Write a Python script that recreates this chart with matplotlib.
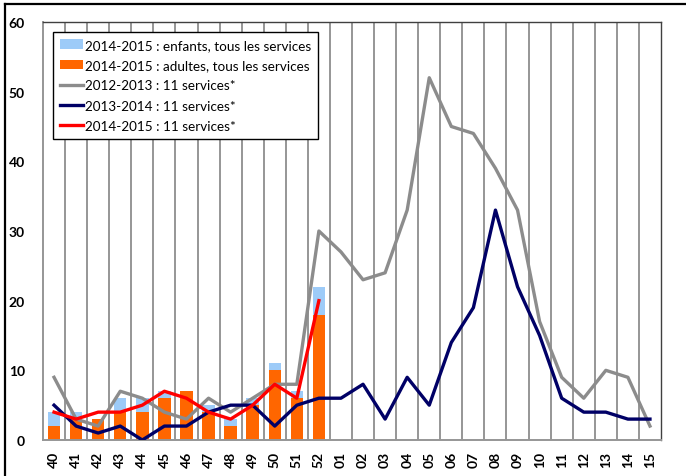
import numpy as np
import matplotlib
matplotlib.use("Agg")
from matplotlib import pyplot as plt
from matplotlib.lines import Line2D
from matplotlib.patches import Patch

WEEKS = ["40", "41", "42", "43", "44", "45", "46", "47", "48", "49", "50", "51", "52",
         "01", "02", "03", "04", "05", "06", "07", "08", "09", "10", "11", "12", "13", "14", "15"]

ADULTES_1415 = [2, 3, 3, 4, 4, 6, 7, 4, 2, 5, 10, 6, 18]
ENFANTS_1415 = [2, 1, 0, 2, 2, 1, 0, 1, 1, 1, 1, 1, 4]

SERIES_1213 = [9, 3, 2, 7, 6, 4, 3, 6, 4, 6, 8, 8, 30,
               27, 23, 24, 33, 52, 45, 44, 39, 33, 17, 9, 6, 10, 9, 2]
SERIES_1314 = [5, 2, 1, 2, 0, 2, 2, 4, 5, 5, 2, 5, 6,
               6, 8, 3, 9, 5, 14, 19, 33, 22, 15, 6, 4, 4, 3, 3]
SERIES_1415 = [4, 3, 4, 4, 5, 7, 6, 4, 3, 5, 8, 6, 20]

plt.rcParams["font.family"] = ["Lato", "DejaVu Sans"]

fig = plt.figure(figsize=(6.86, 4.77), dpi=100)
ax = fig.add_axes([43 / 686, 1 - 441 / 477, (661 - 43) / 686, (441 - 23) / 477])

x_all = np.arange(len(WEEKS))
x_bar = np.arange(len(ADULTES_1415))

ax.bar(x_bar, ADULTES_1415, width=0.56, color="#FF6600", zorder=2)
ax.bar(x_bar, ENFANTS_1415, width=0.56, bottom=ADULTES_1415, color="#9DCBF8", zorder=2)

ax.plot(x_all, SERIES_1213, color="#8C8C8C", lw=2.4, zorder=3)
ax.plot(x_all, SERIES_1314, color="#000066", lw=2.4, zorder=3)
ax.plot(x_bar, SERIES_1415, color="#FF0000", lw=2.4, zorder=4)

for b in np.arange(len(WEEKS) - 1) + 0.5:
    ax.axvline(b, color="#969696", lw=1.4, zorder=1)

ax.set_xlim(-0.5, len(WEEKS) - 0.5)
ax.set_ylim(0, 60)
ax.set_yticks(range(0, 61, 10))
ax.set_xticks(x_all)
ax.set_xticklabels(WEEKS, rotation=90, fontweight="bold", fontsize=10)
ax.tick_params(axis="y", length=0, pad=13, labelsize=10)
ax.tick_params(axis="x", length=0, pad=8)
for lab in ax.get_yticklabels():
    lab.set_fontweight("bold")

for side in ["left", "bottom"]:
    ax.spines[side].set_color("#969696")
    ax.spines[side].set_linewidth(1.4)
for side in ["top", "right"]:
    ax.spines[side].set_color("#404040")
    ax.spines[side].set_linewidth(1.0)

handles = [
    Patch(facecolor="#9DCBF8", edgecolor="none", label="2014-2015 : enfants, tous les services"),
    Patch(facecolor="#FF6600", edgecolor="none", label="2014-2015 : adultes, tous les services"),
    Line2D([], [], color="#8C8C8C", lw=2.4, label="2012-2013 : 11 services*"),
    Line2D([], [], color="#000066", lw=2.4, label="2013-2014 : 11 services*"),
    Line2D([], [], color="#FF0000", lw=2.4, label="2014-2015 : 11 services*"),
]
leg = ax.legend(handles=handles, loc="upper left", bbox_to_anchor=(10 / 618, 1 - 10 / 418),
                fontsize=9.7, frameon=True, fancybox=False, framealpha=1,
                edgecolor="black", handlelength=1.7, handletextpad=0.15,
                labelspacing=0.62, borderpad=0.5, borderaxespad=0)
leg.get_frame().set_linewidth(1.0)
leg.set_zorder(5)

# cadre noir en haut et a gauche
fig.add_artist(Line2D([5 / 686, 1], [1 - 5 / 477, 1 - 5 / 477], color="black", lw=1.6,
                      transform=fig.transFigure))
fig.add_artist(Line2D([5 / 686, 5 / 686], [0, 1 - 5 / 477], color="black", lw=1.6,
                      transform=fig.transFigure))

fig.savefig("out.png", dpi=100)
